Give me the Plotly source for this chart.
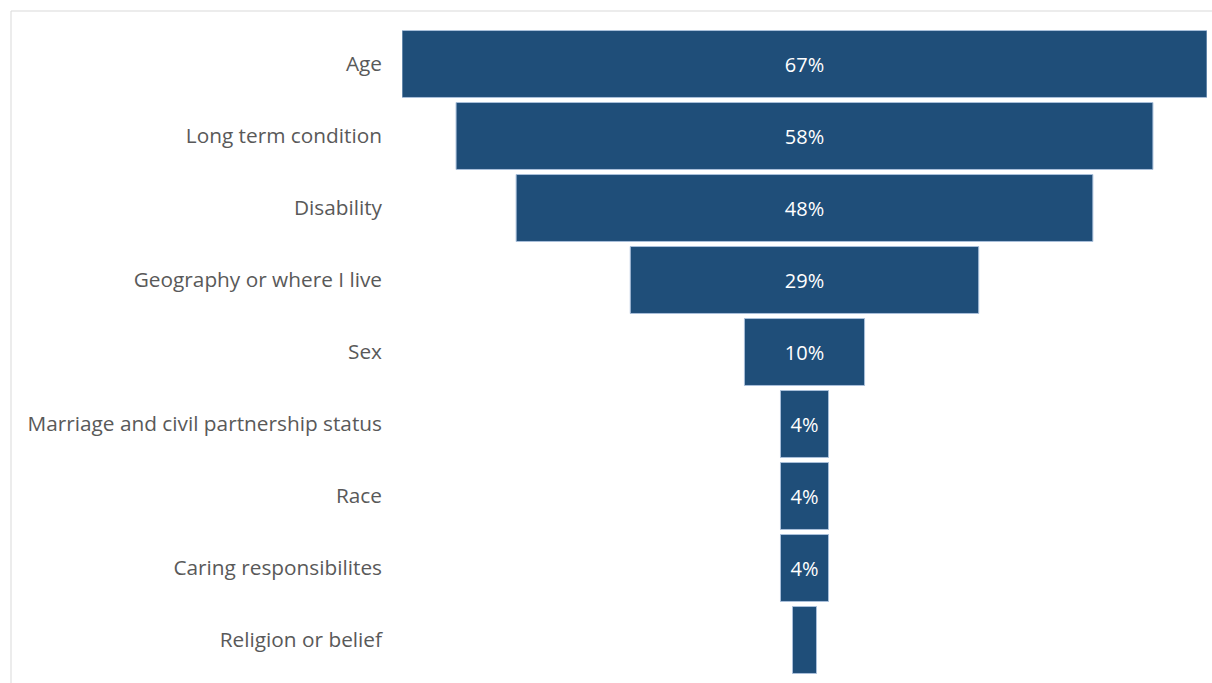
import plotly.graph_objects as go

categories = ["Age", "Long term condition", "Disability", "Geography or where I live", "Sex",
              "Marriage and civil partnership status", "Race", "Caring responsibilites", "Religion or belief"]
values = [67, 58, 48, 29, 10, 4, 4, 4, 2]
labels = [f"{v}%" if v >= 3 else "" for v in values]

W, H = 1212, 683
L, R, T, B = 402, 5, 28, 7

fig = go.Figure(go.Funnel(
    y=categories, x=values, text=labels, textinfo="text",
    textposition="inside", insidetextanchor="middle",
    textfont=dict(color="white", size=20, family="Open Sans"),
    marker=dict(color="#1F4E79", line=dict(color="#A9BFDA", width=1)),
    connector=dict(visible=False),
    hoverinfo="y+x",
))

fig.update_layout(
    width=W, height=H,
    margin=dict(l=L, r=R, t=T, b=B),
    paper_bgcolor="white", plot_bgcolor="white",
    funnelgap=0.07,
    showlegend=False,
    font=dict(family="Open Sans", size=20, color="#595959"),
    xaxis=dict(range=[-33.5, 33.5], visible=False, fixedrange=True),
    yaxis=dict(showgrid=False, zeroline=False, showline=False, ticks="",
               ticklabelstandoff=19, tickfont=dict(size=20.8, color="#595959", family="Open Sans")),
)

pw = W - L - R
ph = H - T - B
fig.add_shape(type="rect", xref="paper", yref="paper",
              x0=(11 - L) / pw, x1=1.2, y0=-0.2, y1=1 + (T - 11) / ph,
              line=dict(color="#D9D9D9", width=1), fillcolor="rgba(0,0,0,0)", layer="below")

fig.write_html("out.html")
